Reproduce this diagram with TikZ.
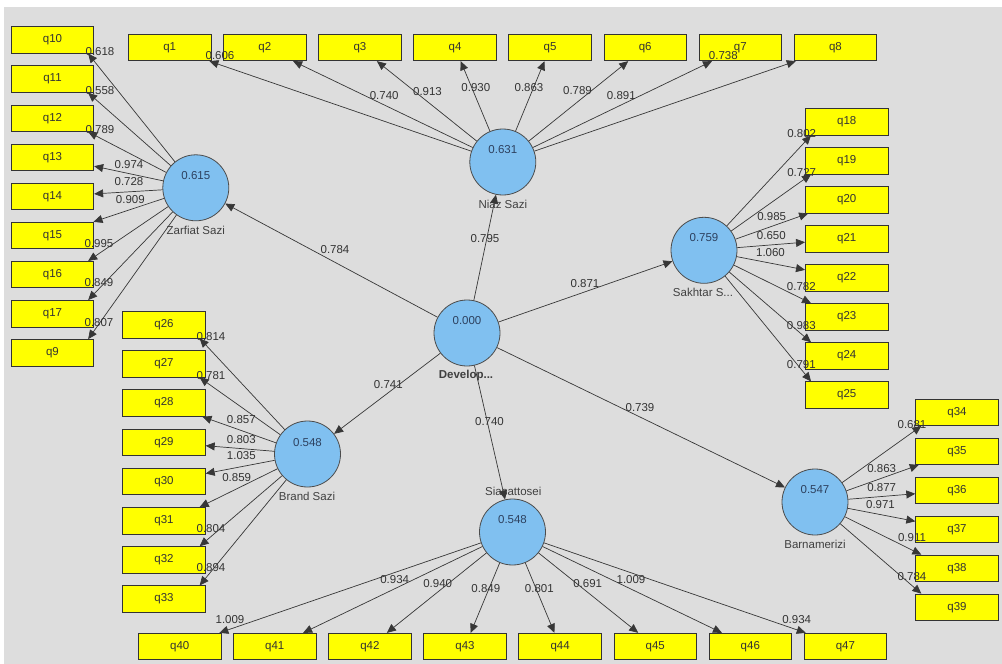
\documentclass[tikz,border=0pt]{standalone}
\usepackage{fontspec}
\setmainfont{Liberation Sans}
\usetikzlibrary{arrows.meta}
\definecolor{bgc}{RGB}{221,221,221}
\definecolor{boxy}{RGB}{255,255,0}
\definecolor{circ}{RGB}{128,192,240}
\definecolor{edgec}{RGB}{55,55,55}
\definecolor{valc}{RGB}{45,65,95}
\newcommand{\fsz}{\fontsize{11.5}{13}\selectfont}
\begin{document}
\begin{tikzpicture}[x=1pt,y=-1pt,
  ind/.style={draw=black!80, fill=boxy, minimum width=82.5pt, minimum height=26.5pt, inner sep=0pt, font=\fsz, text=black!80, line width=0.8pt},
  lv/.style={circle, draw=black!70, fill=circ, minimum size=66pt, inner sep=0pt, line width=0.8pt},
  ld/.style={font=\fsz, text=black!80, inner sep=0pt},
  vl/.style={font=\fsz, text=valc, inner sep=0pt},
  nm/.style={font=\fsz, text=black!75, inner sep=0pt},
  arr/.style={draw=edgec, line width=0.7pt, -{Triangle[length=9pt,width=8pt]}}]
\useasboundingbox (0,0) rectangle (1002,664);
\fill[white] (0,0) rectangle (1002,664);
\fill[bgc] (4,7) rectangle (1002,664);

% indicator boxes
\foreach \n [count=\i from 0] in {1,...,8}
  \node[ind] (q\n) at ({169.7+95.1*\i},47.5) {q\n};
\foreach \n [count=\i from 0] in {10,11,12,13,14,15,16,17,9}
  \node[ind] (q\n) at (52.5,{40+39.1*\i}) {q\n};
\foreach \n [count=\i from 0] in {18,...,25}
  \node[ind] (q\n) at (846.7,{121.7+39.05*\i}) {q\n};
\foreach \n [count=\i from 0] in {26,...,33}
  \node[ind] (q\n) at (164,{324.7+39.2*\i}) {q\n};
\foreach \n [count=\i from 0] in {34,...,39}
  \node[ind] (q\n) at (957,{412.3+39*\i}) {q\n};
\foreach \n [count=\i from 0] in {40,...,47}
  \node[ind] (q\n) at ({179.7+95.1*\i},646.5) {q\n};

% latent variables
\node[lv] (zs) at (195.8,187.8) {};
\node[lv] (ns) at (502.8,162) {};
\node[lv] (dev) at (467,333) {};
\node[lv] (ss) at (704,250.3) {};
\node[lv] (bs) at (307.5,454) {};
\node[lv] (sia) at (512.5,532) {};
\node[lv] (bm) at (815,502) {};

\node[vl] (vzs) at (195.8,175.5) {0.615};
\node[vl] (vns) at (502.8,150) {0.631};
\node[vl] (vdev) at (467,321) {0.000};
\node[vl] (vss) at (704,238) {0.759};
\node[vl] (vbs) at (307.5,442.5) {0.548};
\node[vl] (vsia) at (512.5,520) {0.548};
\node[vl] (vbm) at (815,490) {0.547};

\node[nm] (nzs) at (195.8,230) {Zarfiat Sazi};
\node[nm] (nns) at (502.8,204) {Niaz Sazi};
\node[nm, font=\fsz\bfseries] (ndev) at (466,375.7) {Develop...};
\node[nm] (nss) at (703,292.7) {Sakhtar S...};
\node[nm] (nbs) at (307,496) {Brand Sazi};
\node[nm] (nsia) at (513.3,491.7) {Siasattosei};
\node[nm] (nbm) at (815,544) {Barnamerizi};

% structural paths
\draw[arr] (dev) -- (zs);
\draw[arr] (dev) -- (ns);
\draw[arr] (dev) -- (ss);
\draw[arr] (dev) -- (bs);
\draw[arr] (dev) -- (sia);
\draw[arr] (dev) -- (bm);
\node[ld] (s1) at (335,250) {0.784};
\node[ld] (s2) at (485,238.3) {0.795};
\node[ld] (s3) at (585,283.3) {0.871};
\node[ld] (s4) at (388.3,384.3) {0.741};
\node[ld] (s5) at (489.5,421.7) {0.740};
\node[ld] (s6) at (640,407.3) {0.739};

% Zarfiat Sazi loadings
\foreach \n in {10,11,12} \draw[arr] (zs) -- ([xshift=-6pt]q\n.south east);
\foreach \n in {13,14,15} \draw[arr] (zs) -- (q\n);
\foreach \n in {16,17,9} \draw[arr] (zs) -- ([xshift=-6pt]q\n.north east);
\node[ld] (l10) at (100,52) {0.618};
\node[ld] (l11) at (100,90.7) {0.558};
\node[ld] (l12) at (100,130) {0.789};
\node[ld] (l13) at (129,164.3) {0.974};
\node[ld] (l14) at (129,181.7) {0.728};
\node[ld] (l15) at (130.3,200) {0.909};
\node[ld] (l16) at (99,243.3) {0.995};
\node[ld] (l17) at (99,282.7) {0.849};
\node[ld] (l9) at (99,322.7) {0.807};

% Niaz Sazi loadings
\foreach \n in {1,...,8} \draw[arr] (ns) -- (q\n);
\node[ld] (l1) at (220,56) {0.606};
\node[ld] (l2) at (384.2,96) {0.740};
\node[ld] (l3) at (427.5,91.7) {0.913};
\node[ld] (l4) at (475.8,87.7) {0.930};
\node[ld] (l5) at (529,87.7) {0.863};
\node[ld] (l6) at (577.5,91) {0.789};
\node[ld] (l7) at (621.3,95.7) {0.891};
\node[ld] (l8) at (723.3,56) {0.738};

% Sakhtar loadings
\foreach \n in {18,19} \draw[arr] (ss) -- ([xshift=6pt]q\n.south west);
\foreach \n in {20,21,22} \draw[arr] (ss) -- (q\n);
\foreach \n in {23,24,25} \draw[arr] (ss) -- ([xshift=6pt]q\n.north west);
\node[ld] (l18) at (801.7,133.3) {0.802};
\node[ld] (l19) at (801.7,172.3) {0.727};
\node[ld] (l20) at (771.7,216.7) {0.985};
\node[ld] (l21) at (771.3,236) {0.650};
\node[ld] (l22) at (770.5,252.3) {1.060};
\node[ld] (l23) at (801.3,286.7) {0.782};
\node[ld] (l24) at (801.3,326) {0.983};
\node[ld] (l25) at (801.3,364.3) {0.791};

% Barnamerizi loadings
\draw[arr] (bm) -- ([xshift=6pt]q34.south west);
\foreach \n in {35,36,37} \draw[arr] (bm) -- (q\n);
\foreach \n in {38,39} \draw[arr] (bm) -- ([xshift=6pt]q\n.north west);
\node[ld] (l34) at (912,424.3) {0.681};
\node[ld] (l35) at (881.7,469) {0.863};
\node[ld] (l36) at (881.7,487.3) {0.877};
\node[ld] (l37) at (880.5,504.3) {0.971};
\node[ld] (l38) at (912,537.7) {0.911};
\node[ld] (l39) at (912,576.7) {0.784};

% Brand Sazi loadings
\foreach \n in {26,27} \draw[arr] (bs) -- ([xshift=-6pt]q\n.south east);
\foreach \n in {28,29,30} \draw[arr] (bs) -- (q\n);
\foreach \n in {31,32,33} \draw[arr] (bs) -- ([xshift=-6pt]q\n.north east);
\node[ld] (l26) at (211,336.7) {0.814};
\node[ld] (l27) at (211,375.7) {0.781};
\node[ld] (l28) at (241.3,420) {0.857};
\node[ld] (l29) at (241.3,439.3) {0.803};
\node[ld] (l30) at (241.3,456) {1.035};
\node[ld] (l31) at (236.7,477.3) {0.859};
\node[ld] (l32) at (211,528.7) {0.804};
\node[ld] (l33) at (211,567.7) {0.894};

% Siasattosei loadings
\foreach \n in {40,...,47} \draw[arr] (sia) -- (q\n);
\node[ld] (l40) at (230,620) {1.009};
\node[ld] (l41) at (394.7,580) {0.934};
\node[ld] (l42) at (437.7,583.3) {0.940};
\node[ld] (l43) at (485.8,588.3) {0.849};
\node[ld] (l44) at (539.3,588.3) {0.801};
\node[ld] (l45) at (587.7,583.3) {0.691};
\node[ld] (l46) at (631,579.3) {1.009};
\node[ld] (l47) at (796.7,619.3) {0.934};
\end{tikzpicture}
\end{document}
